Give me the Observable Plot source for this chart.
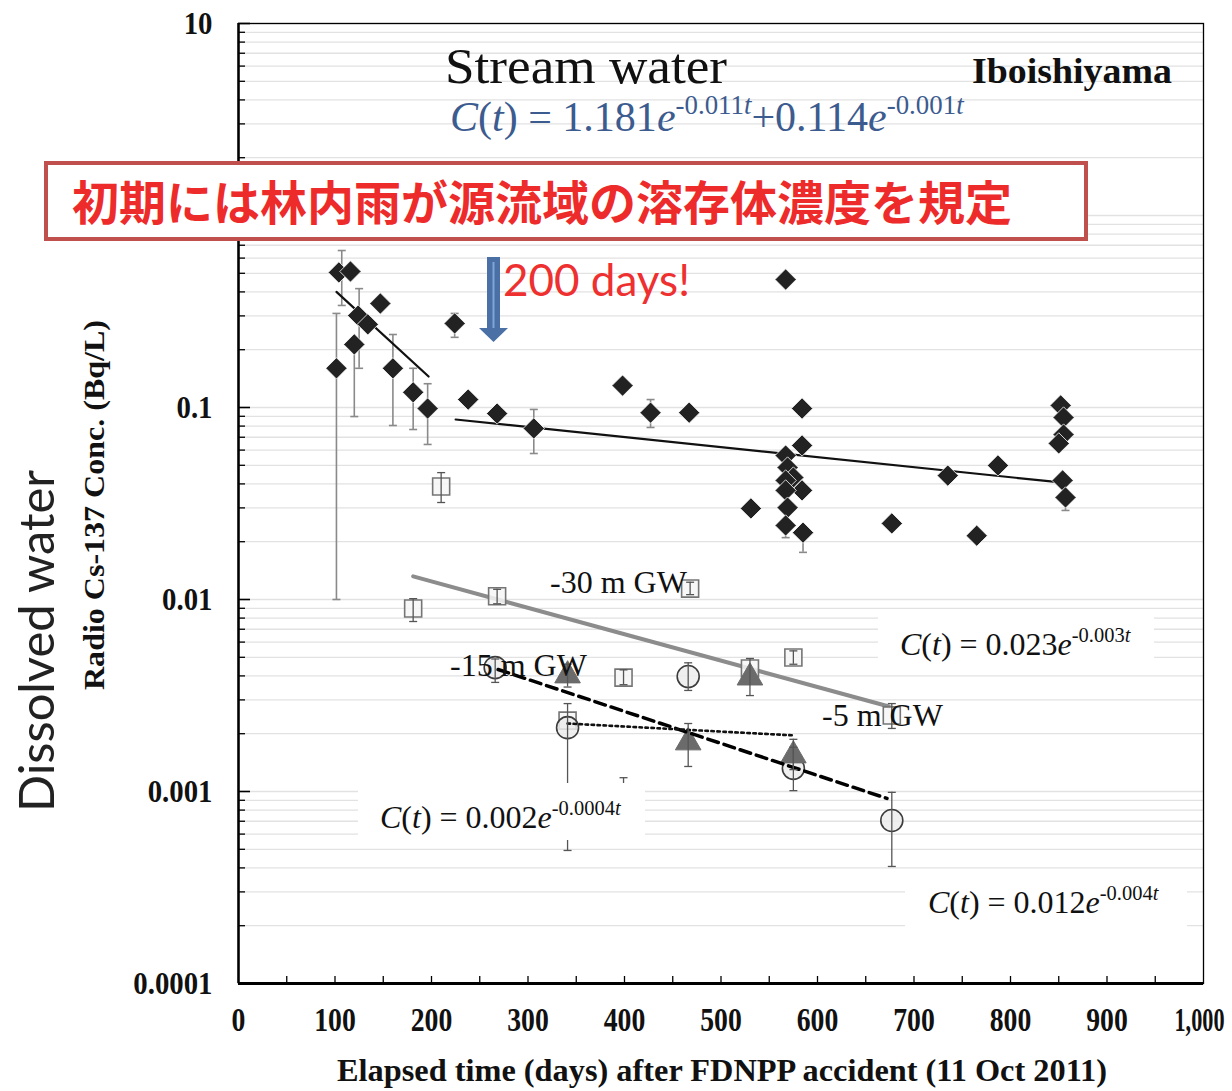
<!DOCTYPE html>
<html><head><meta charset="utf-8">
<script src="https://cdn.jsdelivr.net/npm/d3@7"></script>
<script src="https://cdn.jsdelivr.net/npm/@observablehq/plot@0.6"></script>
<style>body{margin:0;background:#fff}</style>
</head><body><div id="chart"></div>
<script>
// ---------- axis ticks ----------
const xTicks = [0,100,200,300,400,500,600,700,800,900,1000];
const xTickLabels = ["0","100","200","300","400","500","600","700","800","900","1,000"];
const xMinorTicks = [50,100,150,200,250,300,350,400,450,500,550,600,650,700,750,800,850,900,950];
const yTicks = [0.0001,0.001,0.01,0.1,1,10];
const yLabelTicks = [0.0001,0.001,0.01,0.1,10];
const yTickLabels = ["0.0001","0.001","0.01","0.1","10"];
const yMinorMult = [2,3,4,5,6,7,8,9];
const yDecades = [0.0001,0.001,0.01,0.1,1];

// ---------- stream water (diamonds) ----------
const streamDay  = [104,116,147,124,134,120,101.5,160,181,196,224,238,268,306,398,427,467,567,584,584,567,569,575,567,584,567,569,531,567,585,852,855,855,850,735,787,854,857,677,765];
const streamConc = [0.505,0.511,0.348,0.301,0.271,0.213,0.160,0.160,0.120,0.0988,0.274,0.110,0.093,0.0778,0.130,0.094,0.094,0.464,0.0988,0.0634,0.0562,0.0487,0.0432,0.0417,0.037,0.037,0.0301,0.0298,0.0243,0.0223,0.1025,0.0887,0.0723,0.065,0.0442,0.0499,0.0417,0.034,0.0249,0.0215];
const streamErrDay = [107,101.5,125,120,160,181,196,224,306,427,585,567,857];
const streamErrLo  = [0.340,0.010,0.160,0.0897,0.0806,0.0768,0.0642,0.232,0.0576,0.0787,0.0176,0.021,0.0291];
const streamErrHi  = [0.657,0.309,0.416,0.213,0.240,0.160,0.133,0.309,0.0977,0.110,0.0223,0.0243,0.034];
const streamFitEarlyDay = [101.5,197];
const streamFitEarlyConc = [0.40,0.145];
const streamFitLateDay = [225,852];
const streamFitLateConc = [0.0866,0.0407];

// ---------- groundwater ----------
const sqDay  = [181,210,268,341,399,468,530,575,677];
const sqConc = [0.00898,0.0388,0.0104,0.00234,0.00392,0.0114,0.00437,0.00499,0.00249];
const sqErrDay = [181,210,268,399,468,575,677];
const sqErrLo  = [0.00768,0.032,0.0095,0.0036,0.0106,0.0046,0.00213];
const sqErrHi  = [0.0101,0.0458,0.0113,0.0043,0.0123,0.0054,0.00287];

const circDay  = [266,341,466,575,677];
const circConc = [0.00442,0.00215,0.00397,0.00132,0.000706];
const circErrDay = [266,341,466,575,677,399];
const circErrLo  = [0.0037,0.000493,0.00336,0.00101,0.000407,0.0006];
const circErrHi  = [0.0049,0.00287,0.00468,0.0017,0.00099,0.00118];

const triDay  = [341,466,530,575];
const triConc = [0.00402,0.0018,0.00392,0.00154];
const triErrDay = [341,466,530,575];
const triErrLo  = [0.0035,0.00135,0.00316,0.0013];
const triErrHi  = [0.0046,0.00226,0.00493,0.00187];

const gw30FitDay = [181,674];
const gw30FitConc = [0.0132,0.00277];
const gwDashFitDay = [269,672];
const gwDashFitConc = [0.00432,0.00092];
const gwDotFitDay = [341,575];
const gwDotFitConc = [0.00226,0.00196];

// ---------- helpers ----------
const pts = (xs, ys) => xs.map((d,i) => ({day:d, conc:ys[i]}));
const errs = (xs, lo, hi) => xs.map((d,i) => ({day:d, lo:lo[i], hi:hi[i]}));
const yMinor = yDecades.flatMap(d => yMinorMult.map(m => m*d));
const yGrid = yMinor.concat(yTicks);
const capSymbol = {draw(ctx, size){ const w = Math.sqrt(size/Math.PI); ctx.moveTo(-w,0); ctx.lineTo(w,0); }};

const stream = pts(streamDay, streamConc);
const streamErr = errs(streamErrDay, streamErrLo, streamErrHi);
const sq = pts(sqDay, sqConc), circ = pts(circDay, circConc), tri = pts(triDay, triConc);
const gwErr = errs(sqErrDay, sqErrLo, sqErrHi).concat(errs(circErrDay, circErrLo, circErrHi), errs(triErrDay, triErrLo, triErrHi));

function errMarks(data, color, w) {
  return [
    Plot.ruleX(data, {x:"day", y1:"lo", y2:"hi", stroke:color, strokeWidth:w}),
    Plot.dot(data, {x:"day", y:"lo", symbol:capSymbol, r:4, stroke:color, strokeWidth:w, fill:"none"}),
    Plot.dot(data, {x:"day", y:"hi", symbol:capSymbol, r:4, stroke:color, strokeWidth:w, fill:"none"})
  ];
}

const W = 1232, H = 1091, mL = 238, mR = 29, mT = 23, mB = 108;
const fw = W - mL - mR, fh = H - mT - mB;

const plot = Plot.plot({
  width: W, height: H,
  marginLeft: mL, marginRight: mR, marginTop: mT, marginBottom: mB,
  x: {domain:[0,1000]},
  y: {type:"log", domain:[1e-4,10]},
  style: {background:"white", fontFamily:"Liberation Serif", fontSize:"31px", fontWeight:"bold", color:"#111"},
  marks: [
    Plot.gridY(yGrid, {stroke:"#e2e2e2", strokeOpacity:1, strokeWidth:1.3}),
    Plot.tickY(yMinor, {y:d=>d, insetRight: fw-7, stroke:"#000", strokeWidth:1.3}),
    Plot.tickY(yTicks, {y:d=>d, insetRight: fw-12, stroke:"#000", strokeWidth:1.6}),
    Plot.tickX(xMinorTicks, {x:d=>d, insetTop: fh-7, stroke:"#000", strokeWidth:1.3}),
    Plot.axisY(yLabelTicks, {tickSize:0, tickPadding:26, tickFormat:d => yTickLabels[yLabelTicks.indexOf(d)], label:null, fontSize:32, fontWeight:"bold"}),
    Plot.axisX(xTicks, {tickSize:0, tickPadding:24, tickFormat:d => xTickLabels[xTicks.indexOf(d)], label:null, fontSize:33, fontWeight:"bold"}),
    Plot.frame({stroke:"#000", strokeWidth:1.3}),
    Plot.ruleX([0], {stroke:"#000", strokeWidth:2.5}),
    Plot.ruleY([1e-4], {stroke:"#000", strokeWidth:3}),
    // stream
    ...errMarks(streamErr, "#8a8a8a", 1.6),
    Plot.line(pts(streamFitEarlyDay, streamFitEarlyConc), {x:"day", y:"conc", stroke:"#111", strokeWidth:2.2}),
    Plot.line(pts(streamFitLateDay, streamFitLateConc), {x:"day", y:"conc", stroke:"#111", strokeWidth:2.2}),
    Plot.dot(stream, {x:"day", y:"conc", symbol:"diamond2", r:9.6, fill:"#222", stroke:"#fff", strokeWidth:0.8}),
    // groundwater
    Plot.line(pts(gw30FitDay, gw30FitConc), {x:"day", y:"conc", stroke:"#8c8c8c", strokeWidth:4}),
    Plot.dot(sq, {x:"day", y:"conc", symbol:"square", r:9.6, fill:"#f6f6f6", fillOpacity:0.85, stroke:"#757575", strokeWidth:1.6}),
    Plot.dot(circ, {x:"day", y:"conc", symbol:"circle", r:11, fill:"#ececec", fillOpacity:0.85, stroke:"#3c3c3c", strokeWidth:1.6}),
    Plot.dot(tri, {x:"day", y:"conc", symbol:"triangle", r:9.5, fill:"#6b6b6b", stroke:"#6b6b6b", strokeWidth:1}),
    Plot.line(pts(gwDashFitDay, gwDashFitConc), {x:"day", y:"conc", stroke:"#000", strokeWidth:3.5, strokeDasharray:"11,6"}),
    Plot.line(pts(gwDotFitDay, gwDotFitConc), {x:"day", y:"conc", stroke:"#111", strokeWidth:2.6, strokeDasharray:"2.5,3.5"}),
    ...errMarks(gwErr, "#555", 1.3)
  ]
});
document.getElementById("chart").append(plot);

// condense the tick labels like the reference's narrow bold serif
const svg = d3.select(plot);
svg.selectAll('g[aria-label="x-axis tick label"] text').each(function() {
  const len = this.getComputedTextLength();
  const last = this.textContent === "1,000";
  d3.select(this).attr("textLength", last ? 50 : len * 0.84).attr("lengthAdjust", "spacingAndGlyphs");
  if (last) d3.select(this).attr("dx", -4);
});
svg.selectAll('g[aria-label="y-axis tick label"] text').each(function() {
  const len = this.getComputedTextLength();
  d3.select(this).attr("textLength", len * 0.9).attr("lengthAdjust", "spacingAndGlyphs");
});

// ---------- annotations ----------
const g = svg.append("g").attr("text-anchor", "start");
const SERIF = "Liberation Serif";

function richText(x, y, size, color, parts) {
  const t = g.append("text").attr("x", x).attr("y", y).attr("font-family", SERIF).attr("text-anchor", "start")
    .attr("font-size", size).attr("font-weight", "normal").attr("fill", color).style("white-space", "pre");
  let sup = false;
  for (const p of parts) {
    const s = t.append("tspan").text(p.t);
    if (p.i) s.attr("font-style", "italic");
    if (p.sup && !sup) { s.attr("dy", -0.4*size); sup = true; }
    else if (!p.sup && sup) { s.attr("dy", 0.4*size); sup = false; }
    if (p.sup) s.attr("font-size", 0.64*size);
  }
  return t;
}
const eqParts = (a, k) => [
  {t:"C", i:true}, {t:"("}, {t:"t", i:true}, {t:") = " + a}, {t:"e", i:true}, {t:k, sup:true}, {t:"t", sup:true, i:true}
];

// white boxes behind equations
[[358,783,287,57],[878,617,276,56],[905,873,282,58]].forEach(([x,y,w,h]) =>
  g.append("rect").attr("x",x).attr("y",y).attr("width",w).attr("height",h).attr("fill","#fff"));

// red box
g.append("rect").attr("x",46).attr("y",163).attr("width",1040).attr("height",76)
  .attr("fill","#fff").attr("stroke","#c0504d").attr("stroke-width",4);
g.append("text").attr("x",542).attr("y",220).attr("text-anchor","middle")
  .attr("font-family","Noto Sans CJK JP").attr("font-weight",700).attr("font-size",47)
  .attr("fill","#ee2b2b").text("初期には林内雨が源流域の溶存体濃度を規定");

// titles
g.append("text").attr("x",445).attr("y",83).attr("font-family",SERIF).attr("font-size",51)
  .attr("font-weight","normal").attr("fill","#111").attr("textLength",282).attr("lengthAdjust","spacingAndGlyphs")
  .text("Stream water");
g.append("text").attr("x",972).attr("y",83).attr("font-family",SERIF).attr("font-size",35)
  .attr("font-weight","bold").attr("fill","#111").attr("textLength",200).attr("lengthAdjust","spacingAndGlyphs")
  .text("Iboishiyama");
richText(450, 131, 42, "#3c5b8f", [
  {t:"C", i:true}, {t:"("}, {t:"t", i:true}, {t:") = 1.181"}, {t:"e", i:true}, {t:"-0.011", sup:true}, {t:"t", sup:true, i:true},
  {t:"+0.114"}, {t:"e", i:true}, {t:"-0.001", sup:true}, {t:"t", sup:true, i:true}
]);

// arrow + 200 days
g.append("rect").attr("x",487).attr("y",257).attr("width",13).attr("height",73).attr("fill","#4a70a6");
g.append("line").attr("x1",493.5).attr("x2",493.5).attr("y1",262).attr("y2",330).attr("stroke","#7ea6d8").attr("stroke-width",2);
g.append("path").attr("d","M479,328 L508,328 L493.5,342 Z").attr("fill","#4a70a6");
g.append("text").attr("x",503).attr("y",296).attr("font-family","Lato").attr("font-size",44)
  .attr("font-weight","normal").attr("fill","#ee3030").text("200 days!");

// GW labels
[["-30 m GW",550,593],["-15 m GW",450,676],["-5 m GW",822,726]].forEach(([s,x,y]) =>
  g.append("text").attr("x",x).attr("y",y).attr("font-family",SERIF).attr("font-size",32)
    .attr("font-weight","normal").attr("fill","#111").text(s));

// fit equations
richText(900, 655, 32, "#111", eqParts("0.023", "-0.003"));
richText(380, 828, 32, "#111", eqParts("0.002", "-0.0004"));
richText(928, 913, 32, "#111", eqParts("0.012", "-0.004"));

// axis titles
g.append("text").attr("transform","translate(104,505) rotate(-90)").attr("text-anchor","middle")
  .attr("font-family",SERIF).attr("font-weight","bold").attr("font-size",30)
  .attr("textLength",370).attr("lengthAdjust","spacingAndGlyphs").attr("fill","#111")
  .text("Radio Cs-137 Conc. (Bq/L)");
g.append("text").attr("transform","translate(54,641) rotate(-90)").attr("text-anchor","middle")
  .attr("font-family","Lato").attr("font-weight","normal").attr("font-size",48)
  .attr("textLength",342).attr("lengthAdjust","spacingAndGlyphs").attr("fill","#222")
  .text("Dissolved water");
g.append("text").attr("x",722).attr("y",1081).attr("text-anchor","middle")
  .attr("font-family",SERIF).attr("font-weight","bold").attr("font-size",31)
  .attr("textLength",770).attr("lengthAdjust","spacingAndGlyphs").attr("fill","#111")
  .text("Elapsed time (days) after FDNPP accident (11 Oct 2011)");
</script>
</body></html>
